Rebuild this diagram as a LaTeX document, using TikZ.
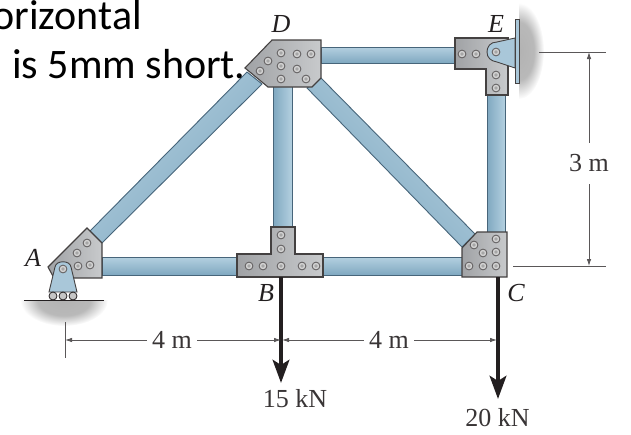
\documentclass[tikz,border=0pt]{standalone}
\usepackage{fontspec}
\setmainfont{Liberation Serif}
\newfontfamily\slidefont{Carlito}
\usetikzlibrary{arrows.meta}
\definecolor{memberlight}{HTML}{B4D0E0}
\definecolor{memberdark}{HTML}{7FA8C0}
\definecolor{memberedge}{HTML}{47657A}
\definecolor{platelight}{HTML}{C8CACC}
\definecolor{platedark}{HTML}{A0A2A5}
\definecolor{clevisfill}{HTML}{A9C7D9}
\definecolor{inkdark}{HTML}{231F20}
\pgfdeclareradialshading{blobshade}{\pgfpoint{0bp}{0bp}}{color(0bp)=(gray!60);color(15bp)=(gray!55);color(25bp)=(white);color(50bp)=(white)}
\tikzset{
  member/.style={draw=memberedge,line width=0.9pt,top color=memberlight,bottom color=memberdark},
  plate/.style={draw=inkdark!85,line width=1.1pt,left color=platedark,right color=platelight},
  clevis/.style={draw=inkdark!85,line width=0.9pt,fill=clevisfill},
  boltrim/.style={draw=inkdark!75,line width=0.8pt,fill=gray!35},
  boltcore/.style={fill=gray!70},
  roller/.style={draw=inkdark,line width=0.8pt,fill=gray!45},
  letter/.style={font=\fontsize{26}{26}\selectfont\itshape,text=inkdark,inner sep=0pt,anchor=base},
  dimtext/.style={font=\fontsize{26}{26}\selectfont,text=inkdark!90,inner ysep=0pt,inner xsep=5pt},
  loadtext/.style={font=\fontsize{26}{26}\selectfont,text=inkdark!90,inner sep=0pt,anchor=base},
  slidetext/.style={font=\fontsize{42}{42}\slidefont,text=black,inner sep=0pt},
  dimline/.style={draw=inkdark!75,line width=0.8pt},
  dimarrow/.style={dimline,-{Latex[length=7pt,width=4.5pt]}},
  loadarrow/.style={draw=inkdark,line width=4.4pt,-{Stealth[length=23pt,width=16.5pt,inset=5pt]}}
}
\begin{document}
\begin{tikzpicture}[x=1pt,y=-1pt]
      \useasboundingbox (0,0) rectangle (631,434);
      % ground and wall
      \begin{scope}
        \clip (10,300) rectangle (120,330);
        \shade[shading=blobshade] (64,300) ellipse (44 and 26);
      \end{scope}
      \begin{scope}
        \clip (519,0) rectangle (550,100);
        \shade[shading=blobshade] (519,51) ellipse (25 and 48);
      \end{scope}
      % members
      \path[member] (102,257) rectangle (238,275);
      \path[member] (322,257) rectangle (462,275);
      \path[member] (321,47) rectangle (456,63);
      \path[member,shading angle=-90] (273,86) rectangle (292,228);
      \path[member,shading angle=-90] (487,94) rectangle (505,233);
      \path[member,shading angle=45] (90,231) -- (247,72) -- (262,84) -- (102,243) -- cycle;
      \path[member,shading angle=-45] (321,78) -- (475,234) -- (462,247) -- (307,88) -- cycle;
      % gusset plates
      \path[plate] (48,267) -- (87,228) -- (102,243) -- (102,278) -- (54,278) -- cycle;
      \path[plate] (272,40) -- (321,40) -- (321,78) -- (312,87) -- (268,87) -- (245,68) -- cycle;
      \path[plate] (455,38) -- (508,38) -- (508,95) -- (486,95) -- (486,69) -- (455,69) -- cycle;
      \path[plate] (271,227) -- (295,227) -- (295,254) -- (323,254) -- (323,277) -- (237,277) -- (237,254) -- (271,254) -- cycle;
      \path[plate] (477,232) -- (507,232) -- (507,277) -- (462,277) -- (462,248) -- cycle;
      % supports
      \path[clevis] (515,38) -- (497,42) .. controls (490,42) and (487,47) .. (487,52) .. controls (487,58) and (491,61) .. (497,62) -- (515,68) -- cycle;
      \path[clevis] (515,19) rectangle (519,83);
      \path[clevis] (49,292) -- (55,267) .. controls (56,260) and (70,260) .. (71,267) -- (77,292) -- cycle;
      \draw[inkdark,line width=0.9pt] (24,300) -- (104,300);
      \foreach \x in {53,63,73}
        \path[roller] (\x,296) circle (4);
      % bolts
      \foreach \x/\y in {87/243,77/253,78/266,90/265,63/269,
                         281/53,297/54,311/54,268/61,281/66,297/69,260/71,281/79,306/79,
                         462/54,476/54,496/52,496/75,496/88,
                         281/235,281/249,249/266,263/266,281/266,302/266,316/266,
                         474/245,496/239,483/253,496/252,469/266,483/266,496/266} {
        \path[boltrim] (\x,\y) circle (3.9);
        \path[boltcore] (\x,\y) circle (1.8);
      }
      % loads
      \coordinate (jointB) at (281,277);
      \coordinate (jointC) at (498,277);
      \coordinate (tipB) at (281,383);
      \coordinate (tipC) at (498,399);
      \draw[loadarrow] (jointB) -- (tipB);
      \draw[loadarrow] (jointC) -- (tipC);
      % dimensions
      \coordinate (tickAtop) at (65,322);
      \coordinate (tickAbot) at (65,358);
      \coordinate (stopA) at (65,340);
      \coordinate (stopBl) at (281,340);
      \coordinate (stopBr) at (282,340);
      \coordinate (stopC) at (497,340);
      \coordinate (stopE) at (589,52);
      \coordinate (stopCr) at (589,266);
      \coordinate (extEl) at (539,52);
      \coordinate (extEr) at (606,52);
      \coordinate (extCl) at (513,266);
      \coordinate (extCr) at (606,266);
      \draw[dimline] (tickAtop) -- (tickAbot);
      \draw[dimline] (extEl) -- (extEr);
      \draw[dimline] (extCl) -- (extCr);
      \node[dimtext] (spanAB) at (172,340) {4 m};
      \node[dimtext] (spanBC) at (389,340) {4 m};
      \node[dimtext,inner ysep=12pt] (spanEC) at (589,163.5) {3 m};
      \draw[dimarrow] (spanAB) -- (stopA);
      \draw[dimarrow] (spanAB) -- (stopBl);
      \draw[dimarrow] (spanBC) -- (stopBr);
      \draw[dimarrow] (spanBC) -- (stopC);
      \draw[dimarrow] (spanEC) -- (stopE);
      \draw[dimarrow] (spanEC) -- (stopCr);
      % labels
      \node[letter] (labelA) at (33,266) {A};
      \node[letter] (labelB) at (266,301) {B};
      \node[letter] (labelC) at (516,301) {C};
      \node[letter] (labelD) at (281,32) {D};
      \node[letter] (labelE) at (496,32) {E};
      \node[loadtext] (loadB) at (295,407) {15 kN};
      \node[loadtext] (loadC) at (497.5,426) {20 kN};
      \node[slidetext,anchor=base east] (lineone) at (142,29) {orizontal};
      \node[slidetext,anchor=base west] (linetwo) at (12,78) {is 5mm short.};
    \end{tikzpicture}
\end{document}
